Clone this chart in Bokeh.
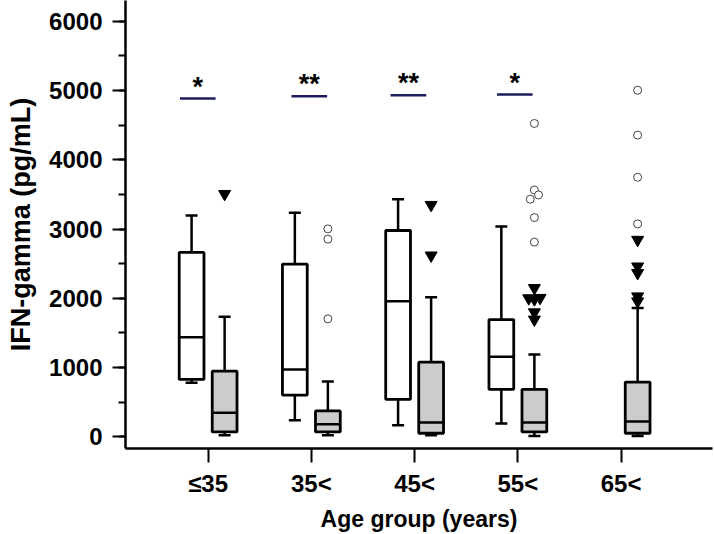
import numpy as np
from bokeh.plotting import figure
from bokeh.models import Range1d, FixedTicker, SingleIntervalTicker
from bokeh.core.properties import value
from bokeh.embed import file_html
from bokeh.resources import INLINE

# ---------------- data ----------------
groups = ["≤35", "35<", "45<", "55<", "65<"]
group_pos = [1, 2, 3, 4, 5]

# white boxes (first four groups only)
white_lo = [780, 238, 166, 190]
white_q1 = [828, 602, 540, 684]
white_med = [1437, 972, 1955, 1155]
white_q3 = [2661, 2494, 2978, 1692]
white_hi = [3194, 3233, 3430, 3035]

# grey boxes (all five groups)
grey_lo = [22, 22, 22, 12, 12]
grey_q1 = [69, 69, 50, 69, 50]
grey_med = [348, 180, 204, 204, 219]
grey_q3 = [947, 372, 1077, 684, 789]
grey_hi = [1731, 799, 2013, 1188, 1860]

# extreme values (open circles), grey series
circ_group = [1, 1, 1, 3, 3, 3, 3, 3, 3, 4, 4, 4, 4]
circ_val = [3002, 2854, 1702, 4524, 3564, 3492, 3430, 3165, 2811, 5004, 4356, 3747, 3074]
circ_jit = [0, 0, 0, 0, 0, 0.04, -0.04, 0, 0, 0, 0, 0, 0]

# outliers (filled triangles), grey series
tri_group = [0, 2, 2, 3, 3, 3, 3, 3, 3, 4, 4, 4, 4, 4]
tri_val = [3506, 3348, 2618, 2148, 2000, 1985, 2005, 1797, 1692, 2844, 2459, 2364, 2027, 1955]
tri_jit = [0, 0, 0, 0, -0.055, 0, 0.055, 0, 0, 0, 0, 0, 0, 0]

# significance marks
sig_group = [0, 1, 2, 3]
sig_y = [4884, 4917, 4932, 4942]
sig_text = ["*", "**", "**", "*"]
sig_dx = [-0.10, -0.02, -0.06, -0.03]

# ---------------- figure ----------------
FONT = "Liberation Sans"
p = figure(width=714, height=534, output_backend="svg", toolbar_location=None,
           x_range=Range1d(0.2, 5.885), y_range=Range1d(-170, 6300),
           min_border_left=125, min_border_right=2, min_border_top=0,
           min_border_bottom=85)
p.outline_line_color = None
p.grid.visible = False
p.background_fill_color = "white"

OFF = 0.16
BW = 0.24
CAP = 0.058

wx = np.array(group_pos[:4], dtype=float) - OFF
gx = np.array(group_pos, dtype=float) + OFF

def draw_boxes(xs, lo, q1, med, q3, hi, fill):
    lo, q1, med, q3, hi = map(np.array, (lo, q1, med, q3, hi))
    # whiskers
    p.segment(x0=xs, x1=xs, y0=q3, y1=hi, line_color="black", line_width=2.5)
    p.segment(x0=xs, x1=xs, y0=lo, y1=q1, line_color="black", line_width=2.5)
    p.segment(x0=xs - CAP, x1=xs + CAP, y0=hi, y1=hi, line_color="black", line_width=2.5)
    p.segment(x0=xs - CAP, x1=xs + CAP, y0=lo, y1=lo, line_color="black", line_width=2.5)
    # box
    p.vbar(x=xs, width=BW, bottom=q1, top=q3, fill_color=fill,
           line_color="black", line_width=2.8)
    # median
    p.segment(x0=xs - BW / 2, x1=xs + BW / 2, y0=med, y1=med,
              line_color="black", line_width=2.5)

draw_boxes(wx, white_lo, white_q1, white_med, white_q3, white_hi, "white")
draw_boxes(gx, grey_lo, grey_q1, grey_med, grey_q3, grey_hi, "#cccccc")

cx = np.array([group_pos[g] for g in circ_group], dtype=float) + OFF + np.array(circ_jit)
p.scatter(x=cx, y=circ_val, marker="circle", size=8, fill_color="white",
          line_color="#444444", line_width=1)

tx = np.array([group_pos[g] for g in tri_group], dtype=float) + OFF + np.array(tri_jit)
p.scatter(x=tx, y=tri_val, marker="inverted_triangle", size=12,
          fill_color="black", line_color="black")

sx = np.array([group_pos[g] for g in sig_group], dtype=float) + np.array(sig_dx)
p.segment(x0=sx - 0.1725, x1=sx + 0.1725, y0=sig_y, y1=sig_y,
          line_color="#1c1c5c", line_width=2.5)
p.text(x=sx, y=sig_y, text=sig_text, text_align="center", text_baseline="alphabetic",
       y_offset=-12, text_font=value(FONT), text_font_size="27px",
       text_font_style="bold", text_color="black")

# ---------------- axes ----------------
for ax in (p.xaxis[0], p.yaxis[0]):
    ax.axis_line_width = 2.5
    ax.axis_line_color = "black"
    ax.major_tick_line_width = 2
    ax.minor_tick_line_width = 2
    ax.major_tick_in = 0
    ax.minor_tick_in = 0
    ax.major_label_text_font = FONT
    ax.major_label_text_font_size = "24px"
    ax.major_label_text_font_style = "bold"
    ax.major_label_text_color = "black"
    ax.axis_label_text_font = FONT
    ax.axis_label_text_font_style = "bold"
    ax.axis_label_text_color = "black"

p.yaxis.ticker = SingleIntervalTicker(interval=1000, num_minor_ticks=2)
p.yaxis.major_tick_out = 13
p.yaxis.minor_tick_out = 7
p.yaxis.major_label_standoff = 10
p.yaxis.axis_label = "IFN-gamma (pg/mL)"
p.yaxis.axis_label_text_font_size = "27px"
p.yaxis.axis_label_standoff = 10

p.xaxis.ticker = FixedTicker(ticks=group_pos)
p.xaxis.major_label_overrides = {g: lab for g, lab in zip(group_pos, groups)}
p.xaxis.major_tick_out = 14
p.xaxis.minor_tick_out = 0
p.xaxis.major_label_standoff = 7
p.xaxis.axis_label = "Age group (years)"
p.xaxis.axis_label_text_font_size = "23px"
p.xaxis.axis_label_standoff = 6

open("out.html", "w").write(file_html(p, INLINE))
